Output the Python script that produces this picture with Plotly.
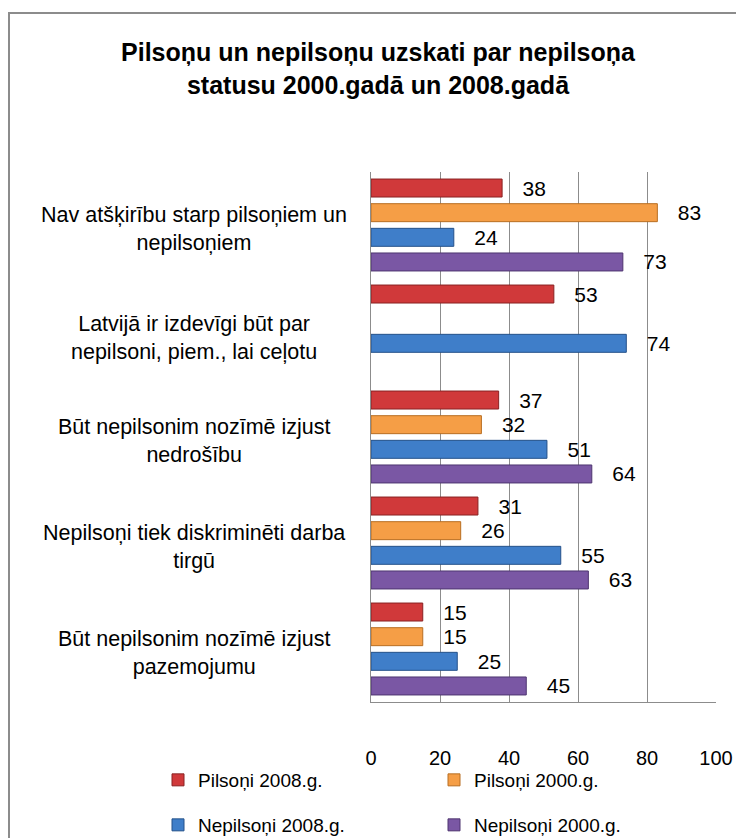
import plotly.graph_objects as go

categories = [
    "Nav atšķirību starp pilsoņiem un<br>nepilsoņiem",
    "Latvijā ir izdevīgi būt par<br>nepilsoni, piem., lai ceļotu",
    "Būt nepilsonim nozīmē izjust<br>nedrošību",
    "Nepilsoņi tiek diskriminēti darba<br>tirgū",
    "Būt nepilsonim nozīmē izjust<br>pazemojumu",
]
series_names = ["Pilsoņi 2008.g.", "Pilsoņi 2000.g.", "Nepilsoņi 2008.g.", "Nepilsoņi 2000.g."]
pilsoni_2008 = [38, 53, 37, 31, 15]
pilsoni_2000 = [83, None, 32, 26, 15]
nepilsoni_2008 = [24, 74, 51, 55, 25]
nepilsoni_2000 = [73, None, 64, 63, 45]
x_ticks = [0, 20, 40, 60, 80, 100]

colors = ["#D0393A", "#F59E46", "#3F7EC9", "#7A57A4"]
line_colors = ["#8A2222", "#B86E22", "#24518A", "#4E3570"]
legend_ids = ["legend", "legend2", "legend3", "legend4"]
# legend anchor positions in page pixels (left, top)
legend_pos = [(158, 761), (434, 761), (158, 806), (434, 806)]

FONT = "Liberation Sans Narrow, Arial Narrow, Liberation Sans, Arial, sans-serif"
NB = "\u00a0" * 3

OFF = 8  # page body margin
W, H = 744 - OFF, 838 - OFF
L, R, T, B = 371 - OFF, 28, 172 - OFF, 136
PW, PH = W - L - R, H - T - B

def px_x(p):
    return (p - OFF - L) / PW

def px_y(p):
    return (H - B - (p - OFF)) / PH

def cx(p):
    return (p - OFF) / W

def cy(p):
    return 1 - (p - OFF) / H

fig = go.Figure()
for name, vals, c, lc, lg in zip(series_names,
                                 [pilsoni_2008, pilsoni_2000, nepilsoni_2008, nepilsoni_2000],
                                 colors, line_colors, legend_ids):
    fig.add_trace(go.Bar(
        y=categories, x=vals, name=name, orientation="h",
        marker=dict(color=c, line=dict(color=lc, width=1)),
        text=[None if v is None else NB + str(v) for v in vals],
        textposition="outside", cliponaxis=False, constraintext="none",
        textfont=dict(family=FONT, size=21, color="black"),
        legend=lg,
    ))

for i, cat in enumerate(categories):
    fig.add_annotation(
        x=px_x(194), xref="paper", y=cat, yref="y",
        text=cat, showarrow=False, align="center", xanchor="center",
        yshift=-4 if i != 1 else -7,
        font=dict(family=FONT, size=21.5, color="black"),
    )

# outer chart border (extends beyond the visible frame on right/bottom)
fig.add_shape(type="rect", xref="paper", yref="paper",
              x0=px_x(9), x1=px_x(770), y0=px_y(870), y1=px_y(13),
              line=dict(color="#8C8C8C", width=2), fillcolor="rgba(0,0,0,0)", layer="below")

legends = {}
for lg, (lx, ly) in zip(legend_ids, legend_pos):
    legends[lg] = dict(orientation="h", xref="container", yref="container",
                       x=cx(lx), xanchor="left", y=cy(ly), yanchor="top",
                       font=dict(family=FONT, size=19, color="black"),
                       bgcolor="rgba(0,0,0,0)")

fig.update_layout(
    width=W, height=H,
    margin=dict(l=L, r=R, t=T, b=B, autoexpand=False),
    paper_bgcolor="white", plot_bgcolor="white",
    barmode="group", bargap=0.07, bargroupgap=0.27,
    title=dict(text="<b>Pilsoņu un nepilsoņu uzskati par nepilsoņa<br>statusu 2000.gadā un 2008.gadā</b>",
               x=(378 - OFF) / W, xanchor="center", y=1 - (61 - OFF) / H, yanchor="top", yref="container",
               automargin=False,
               font=dict(family=FONT, size=25, color="black")),
    font=dict(family=FONT, color="black"),
    showlegend=True,
    xaxis=dict(range=[0, 100], tickvals=x_ticks, ticktext=[str(v) for v in x_ticks],
               showgrid=True, gridcolor="#8C8C8C", gridwidth=1,
               showline=True, linecolor="#8C8C8C", linewidth=1,
               zeroline=False, ticks="", ticklabelstandoff=38, automargin=False,
               tickfont=dict(family=FONT, size=20, color="black"), fixedrange=True),
    yaxis=dict(autorange="reversed", showticklabels=False, showgrid=False, automargin=False,
               showline=True, linecolor="#8C8C8C", linewidth=1, ticks="", fixedrange=True),
    **legends,
)

fig.write_html("out.html")
